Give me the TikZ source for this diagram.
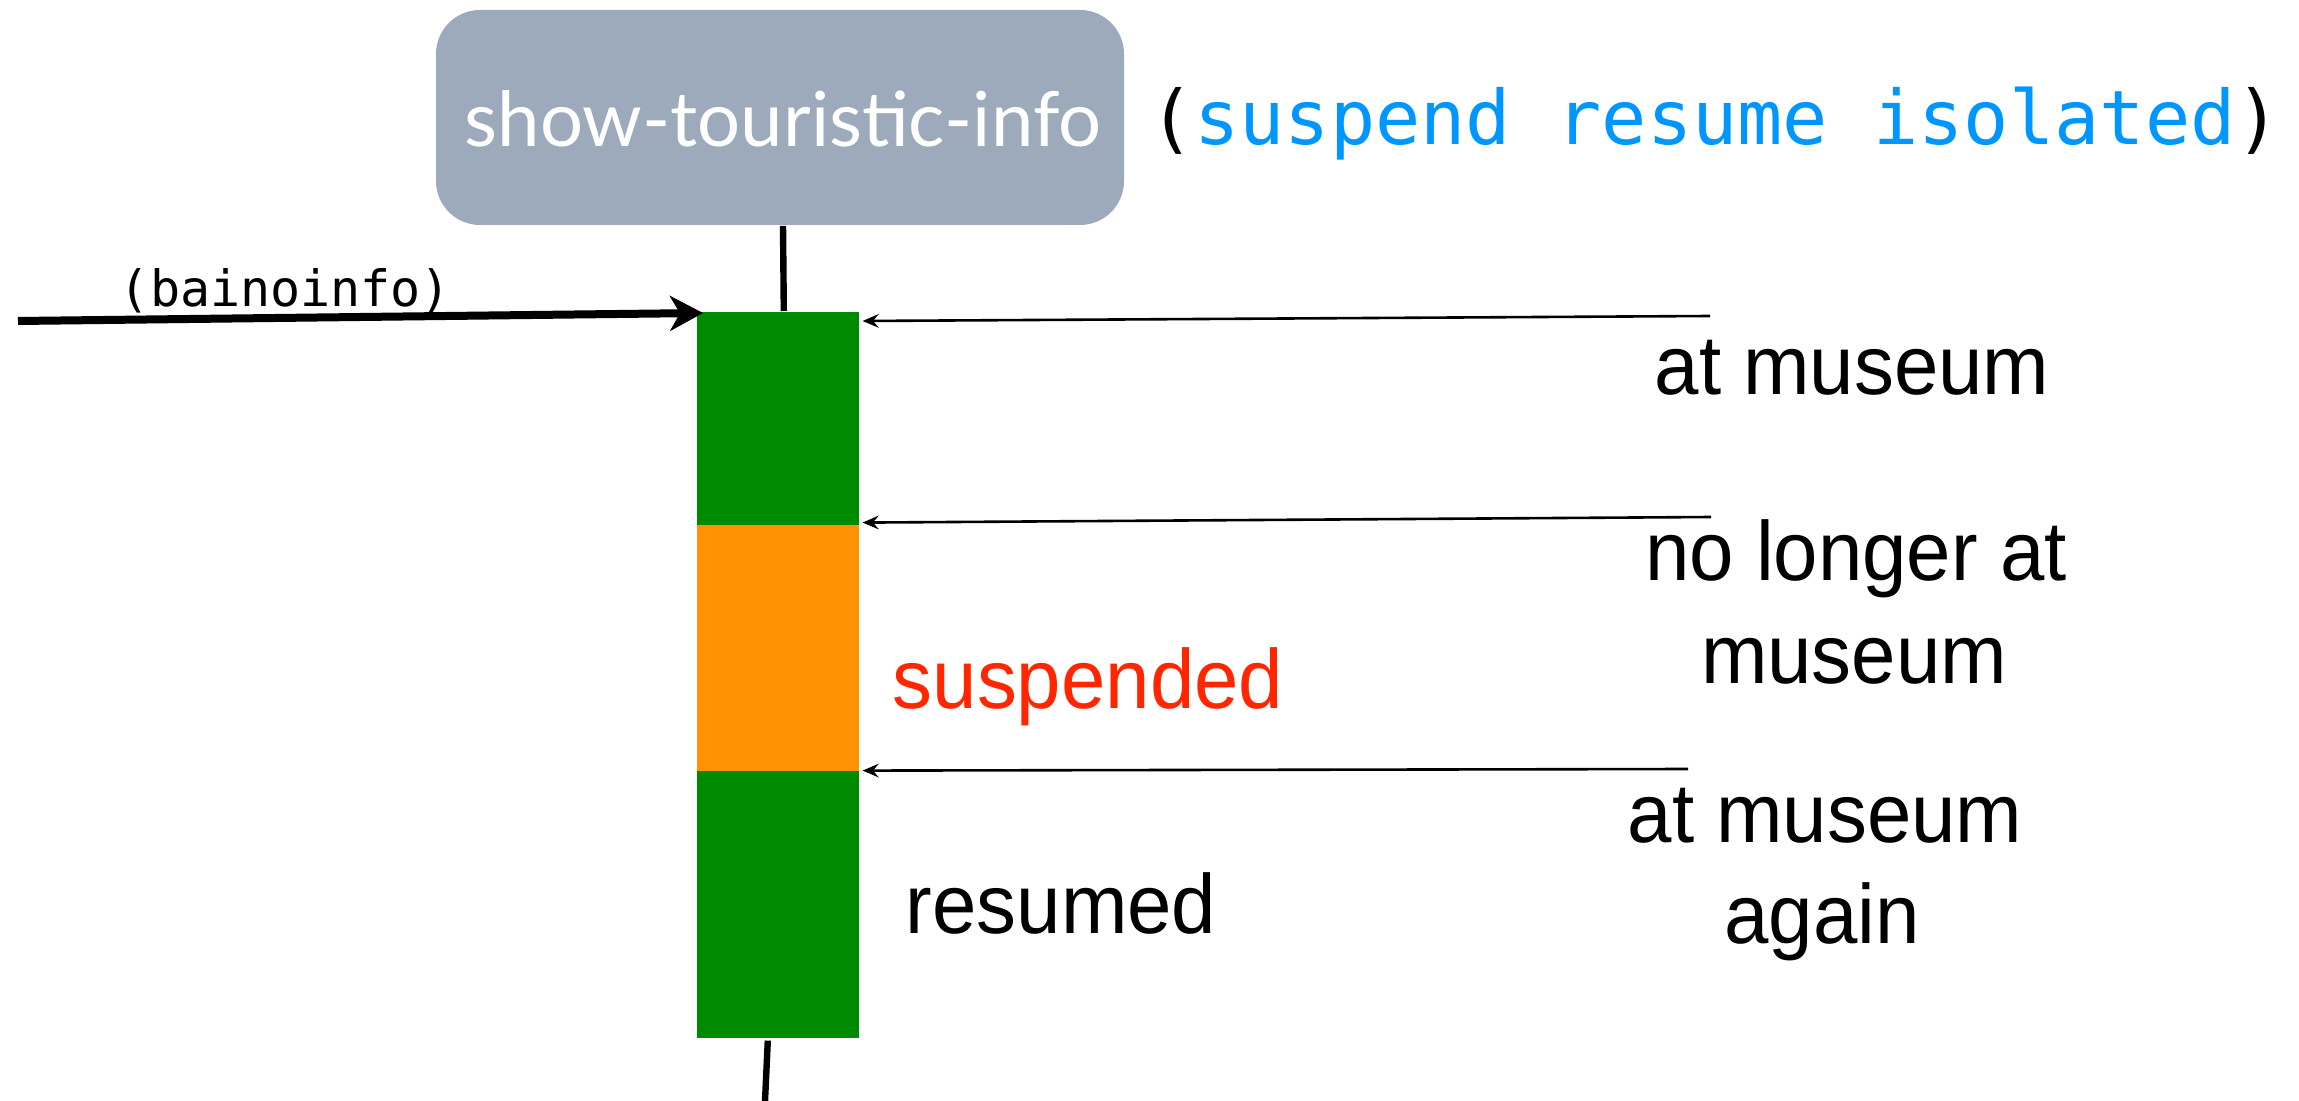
\documentclass[tikz,border=0pt]{standalone}
\usepackage{fontspec}
\usetikzlibrary{arrows.meta}
\newfontfamily\boxfont{Lato}
\newfontfamily\codefont{DejaVu Sans Mono}
\newfontfamily\lblfont[FakeStretch=0.95]{Liberation Sans}
\definecolor{boxgray}{RGB}{156,170,187}
\definecolor{bargreen}{RGB}{0,138,0}
\definecolor{barorange}{RGB}{255,146,0}
\definecolor{codeblue}{RGB}{0,150,255}
\definecolor{susred}{RGB}{255,38,0}
\begin{document}
\begin{tikzpicture}[x=0.25pt,y=-0.25pt,
  procbox/.style={draw=none, fill=boxgray, rounded corners=11pt, minimum width=172pt, minimum height=53.75pt, inner sep=0pt},
  boxtext/.style={inner sep=0pt, text=white, font=\boxfont\fontsize{19}{23}\selectfont, anchor=base},
  codetext/.style={inner sep=0pt, font=\codefont\fontsize{18.8}{22}\selectfont, anchor=base},
  smallcode/.style={inner sep=0pt, font=\codefont\fontsize{12.5}{15}\selectfont, anchor=base},
  lbl/.style={inner sep=0pt, font=\lblfont\fontsize{21}{25}\selectfont, anchor=base},
  seg/.style={draw=none, inner sep=0pt, minimum width=40.5pt, anchor=north west},
  thickarr/.style={line width=2pt, -{Stealth[length=8.25pt, width=8.75pt, inset=2.5pt]}},
  thinarr/.style={line width=0.65pt, -{Stealth[length=4pt, width=3.4pt, inset=1.4pt]}},
  vline/.style={line width=1.6pt}
]
\useasboundingbox (0,0) rectangle (2299,1101);

% process box
\node[procbox] (box) at (780,117.5) {};
\node[boxtext] (boxlbl) at (783,147) {show-touristic-info};
\node[codetext] (opts) at (1715,145) {({\color{codeblue}suspend resume isolated})};

% bar segments
\node[seg, fill=bargreen, minimum height=53.25pt] (g1) at (696,311) {};
\node[seg, fill=barorange, minimum height=61.5pt] (o1) at (696,524) {};
\node[seg, fill=bargreen, minimum height=66.75pt] (g2) at (696,770) {};

% lifeline pieces
\draw[vline] ([xshift=0.75pt]box.south) -- ([xshift=1.5pt]g1.north);
\coordinate (bend) at (765,1101);
\draw[vline] ([xshift=-2.5pt,yshift=-0.5pt]g2.south) -- (bend);

% incoming call
\coordinate (start) at (18,321);
\draw[thickarr] (start) -- ([shift={(7,2)}]g1.north west);
\node[smallcode] (call) at (285.5,307) {(bainoinfo)};

% events
\coordinate (e1) at (1710,316);
\coordinate (e2) at (1711,517);
\coordinate (e3) at (1688,769);
\draw[thinarr] (e1) -- ([shift={(3,10)}]g1.north east);
\draw[thinarr] (e2) -- ([shift={(3,-3)}]g1.south east);
\draw[thinarr] (e3) -- ([shift={(3,-1)}]o1.south east);

% event labels
\node[lbl] (l1) at (1852,395) {at museum};
\node[lbl] (l2a) at (1856,580) {no longer at};
\node[lbl] (l2b) at (1854,683) {museum};
\node[lbl] (l3a) at (1825,842) {at museum};
\node[lbl] (l3b) at (1822,943) {again};

% state labels
\node[lbl, anchor=base west, text=susred] (sus) at (892,708) {suspended};
\node[lbl, anchor=base west] (res) at (905,933) {resumed};
\end{tikzpicture}
\end{document}
